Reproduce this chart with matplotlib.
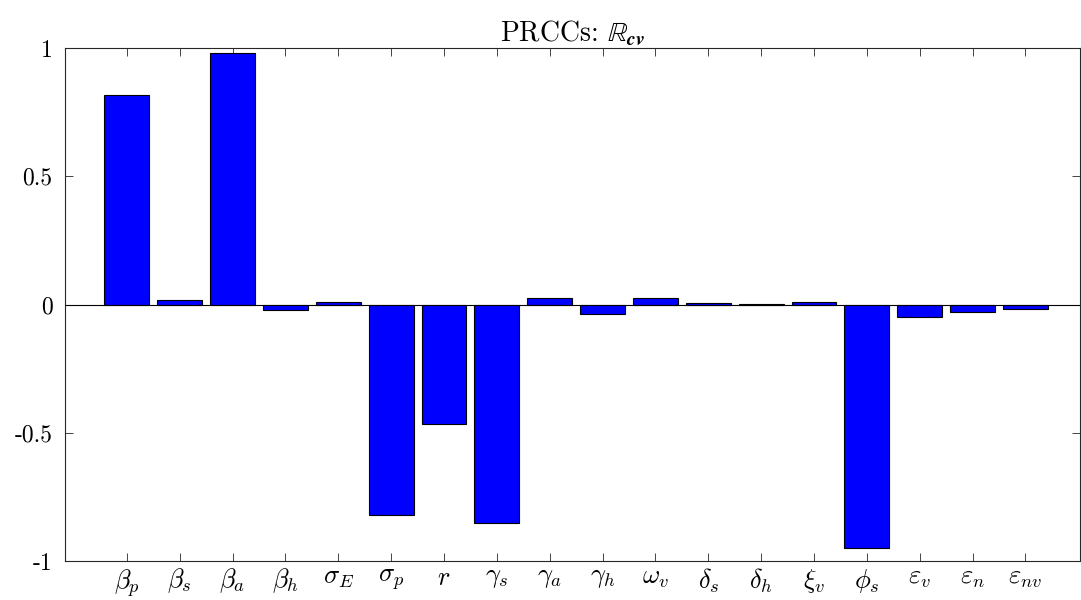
import matplotlib
matplotlib.use('Agg')
import matplotlib.pyplot as plt
import numpy as np

plt.rcParams['mathtext.fontset'] = 'cm'
plt.rcParams['font.family'] = ['cmr10', 'DejaVu Serif']
plt.rcParams['axes.unicode_minus'] = False

params = [r'$\beta_p$', r'$\beta_s$', r'$\beta_a$', r'$\beta_h$', r'$\sigma_E$', r'$\sigma_p$',
          r'$r$', r'$\gamma_s$', r'$\gamma_a$', r'$\gamma_h$', r'$\omega_v$', r'$\delta_s$',
          r'$\delta_h$', r'$\xi_v$', r'$\phi_s$', r'$\varepsilon_v$', r'$\varepsilon_n$', r'$\varepsilon_{nv}$']
prcc = [0.815, 0.017, 0.982, -0.021, 0.010, -0.819,
        -0.464, -0.850, 0.026, -0.036, 0.026, 0.007,
        0.003, 0.010, -0.951, -0.047, -0.028, -0.018]
yticks = [-1, -0.5, 0, 0.5, 1]
yticklabels = ['-1', '-0.5', '0', '0.5', '1']

fig = plt.figure(figsize=(10.81, 6.0), dpi=100)
ax = fig.add_axes([0.0601, 0.065, 0.9389, 0.855])

x = np.arange(1, len(prcc) + 1)
ax.bar(x, prcc, width=0.85, color='#0000ff', edgecolor='black', linewidth=0.8, zorder=2)
ax.axhline(0, color='black', linewidth=0.8, zorder=3)

ax.set_xlim(-0.17, 19.03)
ax.set_ylim(-1, 1)
ax.set_xticks(x)
ax.set_xticklabels(params, fontsize=19)
ax.set_yticks(yticks)
ax.set_yticklabels(yticklabels, fontsize=17)

for s in ax.spines.values():
    s.set_color('#262626')
    s.set_linewidth(0.8)
ax.tick_params(direction='in', length=6, width=0.6, color='#262626',
               top=True, right=True)
ax.tick_params(axis='y', pad=9)
ax.tick_params(axis='x', pad=4)

ax.set_title(r'PRCCs: $\mathbb{R}_{\boldsymbol{cv}}$', fontsize=20, pad=5)

fig.savefig('out.png', dpi=100)
